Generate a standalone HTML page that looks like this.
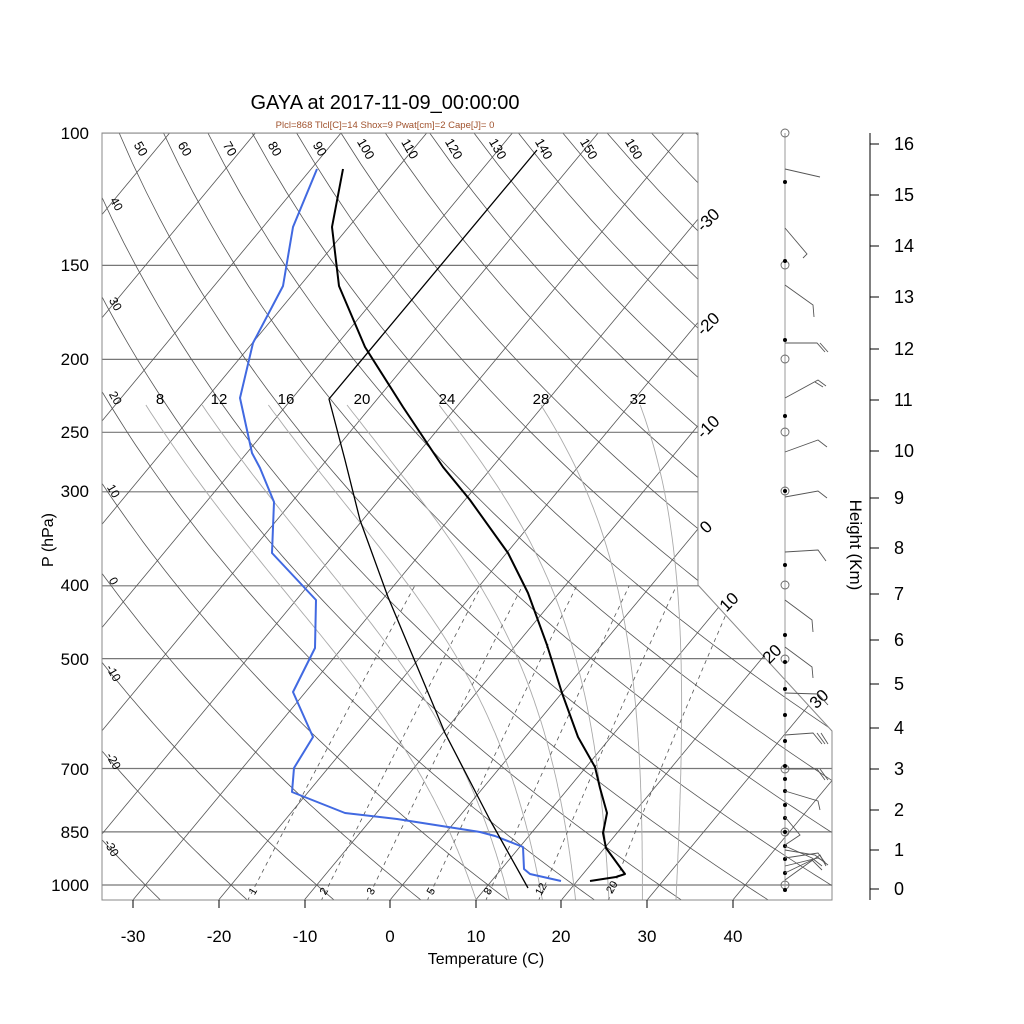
<!DOCTYPE html>
<html><head><meta charset="utf-8"><style>
html,body{margin:0;padding:0;background:#fff}
svg{display:block}
text{font-family:"Liberation Sans",sans-serif}
</style></head><body>
<svg id="s" width="1024" height="1024" viewBox="0 0 1024 1024" xmlns="http://www.w3.org/2000/svg">
<defs><clipPath id="cp"><polygon points="102,133 698,133 698,585 832,731 832,900 102,900"/></clipPath></defs>
<g id="bg" clip-path="url(#cp)"></g>
<polygon points="102,133 698,133 698,585 832,731 832,900 102,900" fill="none" stroke="#888" stroke-width="1"/>
<g fill="none" stroke-linejoin="round">
<polyline stroke="#4169e1" stroke-width="2" points="317,169 293,227 283,286 253,343 240,398 252,453 260,468 274,502 272,553 316,600 315,648 293,692 313,737 294,768 292,792 345,813 397,819 480,832 495,836 523,847 524,869 530,874 561,881"/>
<polyline stroke="#000" stroke-width="2" points="343,169 332,227 339,286 365,347 403,407 443,467 470,500 508,553 528,593 547,645 562,693 578,737 595,767 600,788 607,813 603,833 606,848 625,874 616,877 590,881"/>
<polyline stroke="#000" stroke-width="1.3" points="528,888 490,820 445,733 388,597 360,520 345,460 329,399 537,150"/>
</g>
<g font-size="17" text-anchor="end" fill="#000">
<text x="89" y="139">100</text><text x="89" y="271">150</text><text x="89" y="365">200</text>
<text x="89" y="438">250</text><text x="89" y="497">300</text><text x="89" y="591">400</text>
<text x="89" y="665">500</text><text x="89" y="775">700</text><text x="89" y="838">850</text>
<text x="89" y="891">1000</text>
</g>
<text transform="translate(53,540) rotate(-90)" font-size="16" text-anchor="middle">P (hPa)</text>
<g font-size="17" text-anchor="middle">
<text x="133" y="942">-30</text><text x="219" y="942">-20</text><text x="305" y="942">-10</text>
<text x="390" y="942">0</text><text x="476" y="942">10</text><text x="561" y="942">20</text>
<text x="647" y="942">30</text><text x="733" y="942">40</text>
</g>
<g stroke="#000" stroke-width="1"><line x1="133" y1="900" x2="133" y2="908"/><line x1="219" y1="900" x2="219" y2="908"/><line x1="305" y1="900" x2="305" y2="908"/><line x1="390" y1="900" x2="390" y2="908"/><line x1="476" y1="900" x2="476" y2="908"/><line x1="561" y1="900" x2="561" y2="908"/><line x1="647" y1="900" x2="647" y2="908"/><line x1="733" y1="900" x2="733" y2="908"/></g>
<text x="486" y="964" font-size="16" text-anchor="middle">Temperature (C)</text>
<text x="385" y="109" font-size="20" text-anchor="middle">GAYA at 2017-11-09_00:00:00</text>
<text x="385" y="128" font-size="9.5" text-anchor="middle" fill="#a0522d">Plcl=868 Tlcl[C]=14 Shox=9 Pwat[cm]=2 Cape[J]= 0</text>
<g font-size="15" text-anchor="middle">
<text x="160" y="404">8</text><text x="219" y="404">12</text><text x="286" y="404">16</text>
<text x="362" y="404">20</text><text x="447" y="404">24</text><text x="541" y="404">28</text><text x="638" y="404">32</text>
</g>
<g font-size="13" text-anchor="middle">
<text transform="translate(137,151) rotate(60)">50</text><text transform="translate(181,151) rotate(60)">60</text>
<text transform="translate(226,151) rotate(60)">70</text><text transform="translate(271,151) rotate(60)">80</text>
<text transform="translate(316,151) rotate(60)">90</text><text transform="translate(362,151) rotate(60)">100</text>
<text transform="translate(406,151) rotate(60)">110</text><text transform="translate(450,151) rotate(60)">120</text>
<text transform="translate(494,151) rotate(60)">130</text><text transform="translate(540,151) rotate(60)">140</text>
<text transform="translate(585,151) rotate(60)">150</text><text transform="translate(630,151) rotate(60)">160</text>
</g>
<g font-size="12" text-anchor="middle">
<text transform="translate(113,206) rotate(60)">40</text><text transform="translate(112,306) rotate(60)">30</text>
<text transform="translate(112,400) rotate(60)">20</text><text transform="translate(110,493) rotate(60)">10</text>
<text transform="translate(110,583) rotate(60)">0</text><text transform="translate(110,675) rotate(60)">-10</text>
<text transform="translate(110,763) rotate(60)">-20</text><text transform="translate(108,850) rotate(60)">-30</text>
</g>
<g font-size="17" text-anchor="middle">
<text transform="translate(712,224) rotate(-45)">-30</text><text transform="translate(712,328) rotate(-45)">-20</text>
<text transform="translate(712,431) rotate(-45)">-10</text><text transform="translate(710,531) rotate(-45)">0</text>
<text transform="translate(733,606) rotate(-45)">10</text><text transform="translate(776,658) rotate(-45)">20</text>
<text transform="translate(823,703) rotate(-45)">30</text>
</g>
<g font-size="11" text-anchor="middle">
<text transform="translate(256,893) rotate(-60)">1</text><text transform="translate(327,893) rotate(-60)">2</text>
<text transform="translate(374,893) rotate(-60)">3</text><text transform="translate(434,893) rotate(-60)">5</text>
<text transform="translate(491,893) rotate(-60)">8</text><text transform="translate(544,891) rotate(-60)">12</text>
<text transform="translate(615,889) rotate(-60)">20</text>
</g>
<line x1="785" y1="133" x2="785" y2="890" stroke="#999" stroke-width="1"/>
<g fill="none" stroke="#666" stroke-width="0.9">
<circle cx="785" cy="133" r="4"/><circle cx="785" cy="265" r="4"/><circle cx="785" cy="359" r="4"/>
<circle cx="785" cy="432" r="4"/><circle cx="785" cy="491" r="4"/><circle cx="785" cy="585" r="4"/>
<circle cx="785" cy="659" r="4"/><circle cx="785" cy="769" r="4"/><circle cx="785" cy="832" r="4"/><circle cx="785" cy="885" r="4"/>
</g>
<g fill="#000">
<circle cx="785" cy="182" r="2"/><circle cx="785" cy="261" r="2"/><circle cx="785" cy="340" r="2"/><circle cx="785" cy="416" r="2"/>
<circle cx="785" cy="491" r="2"/><circle cx="785" cy="565" r="2"/><circle cx="785" cy="635" r="2"/><circle cx="785" cy="662" r="2"/>
<circle cx="785" cy="689" r="2"/><circle cx="785" cy="715" r="2"/><circle cx="785" cy="741" r="2"/><circle cx="785" cy="766" r="2"/>
<circle cx="785" cy="779" r="2"/><circle cx="785" cy="791" r="2"/><circle cx="785" cy="805" r="2"/><circle cx="785" cy="818" r="2"/>
<circle cx="785" cy="832" r="2"/><circle cx="785" cy="846" r="2"/><circle cx="785" cy="859" r="2"/><circle cx="785" cy="873" r="2"/><circle cx="785" cy="890" r="2"/>
</g>
<g fill="none" stroke="#555" stroke-width="0.9">
<polyline points="785,169 820,177"/>
<polyline points="785,228 807,254 803,258"/>
<polyline points="785,285 813,305 814,317"/>
<polyline points="785,343 817,343 825,352"/><line x1="820" y1="343" x2="828" y2="352"/>
<polyline points="785,398 818,380 826,386"/><line x1="815" y1="382" x2="823" y2="387"/>
<polyline points="785,452 818,440 827,447"/>
<polyline points="785,497 818,491 827,498"/>
<polyline points="785,552 818,550 826,561"/>
<polyline points="785,600 812,620 813,632"/>
<polyline points="785,647 812,667 813,678"/>
<polyline points="785,693 818,694 828,705"/>
<polyline points="785,735 813,733 822,744"/><line x1="817" y1="733" x2="825" y2="744"/><line x1="821" y1="733" x2="828" y2="744"/>
<polyline points="785,769 817,769 825,780"/><line x1="820" y1="769" x2="828" y2="780"/>
<polyline points="785,791 818,801 820,810"/>
<polyline points="785,817 800,835 785,845"/>
<polyline points="785,846 812,858 822,866"/>
<polyline points="785,850 815,855 828,865"/>
<polyline points="785,858 818,853 826,864"/>
<polyline points="785,866 818,858 825,862"/>
<polyline points="785,873 812,860 822,870"/>
<polyline points="785,880 810,862 820,855 826,866"/>
</g>
<line x1="870" y1="133" x2="870" y2="900" stroke="#000" stroke-width="1"/>
<g id="hax" font-size="18"></g>
<text transform="translate(850,545) rotate(90)" font-size="17" text-anchor="middle">Height (Km)</text>
<script>
(function(){
var NS="http://www.w3.org/2000/svg";
function Y(p){return 133+326.6*Math.log(p/100);}
function X(T,p){return 390+8.57*T+0.83*(900-Y(p));}
var bg=document.getElementById('bg');
function path(d,st,w,dash){var e=document.createElementNS(NS,'path');e.setAttribute('d',d);e.setAttribute('fill','none');e.setAttribute('stroke',st);e.setAttribute('stroke-width',w);if(dash)e.setAttribute('stroke-dasharray',dash);bg.appendChild(e);}
[100,150,200,250,300,400,500,700,850,1000].forEach(function(p){var y=Y(p).toFixed(1);path('M102 '+y+'H840','#777',1.2);});
for(var T=-120;T<=40;T+=10){path('M'+X(T,1050).toFixed(1)+' '+Y(1050).toFixed(1)+'L'+X(T,100).toFixed(1)+' '+Y(100).toFixed(1),'#555',0.8);}
for(var th=-40;th<=200;th+=10){var d='';for(var p=1050;p>=100;p-=10){var t=(th+273.15)*Math.pow(p/1000,0.286)-273.15;d+=(d?'L':'M')+X(t,p).toFixed(1)+' '+Y(p).toFixed(1);}path(d,'#555',0.8);}
function es(tc){return 6.112*Math.exp(17.67*tc/(tc+243.5));}
function dTdp(T,p){var tc=T-273.15;var e=es(tc);var rs=0.622*e/(p-e);var Rd=287,cp=1005,L=2.5e6;return (Rd*T+L*rs)/(p*(cp+L*L*rs*0.622/(Rd*T*T)));}
[8,12,16,20,24,28,32].forEach(function(tw){var pts=[];var T=tw+273.15;var p=1000;
 var T2=T,p2=1000;var low=[];while(p2<1050){var k=dTdp(T2,p2);T2+=k*5;p2+=5;low.unshift([T2,p2]);}
 pts=low.concat([[T,p]]);
 while(p>230){var k1=dTdp(T,p);var Tm=T-k1*2.5;var k2=dTdp(Tm,p-2.5);T-=k2*5;p-=5;pts.push([T,p]);}
 var d='';pts.forEach(function(q){d+=(d?'L':'M')+X(q[0]-273.15,q[1]).toFixed(1)+' '+Y(q[1]).toFixed(1);});path(d,'#aaa',0.9);});
[1,2,3,5,8,12,20].forEach(function(w){var d='';for(var p=1050;p>=400;p-=10){var e=w*p/(622+w);var l=Math.log(e/6.112);var t=243.5*l/(17.67-l);d+=(d?'L':'M')+X(t,p).toFixed(1)+' '+Y(p).toFixed(1);}path(d,'#555',0.8,'4,4');});
var h=document.getElementById('hax');
var hy=[889,850,810,769,728,684,640,594,548,498,451,400,349,297,246,195,144];
for(var k=0;k<=16;k++){var y=hy[k];var l=document.createElementNS(NS,'line');l.setAttribute('x1',870);l.setAttribute('x2',879);l.setAttribute('y1',y);l.setAttribute('y2',y);l.setAttribute('stroke','#000');h.appendChild(l);
var t=document.createElementNS(NS,'text');t.setAttribute('x',894);t.setAttribute('y',y+6);t.textContent=String(k);h.appendChild(t);}
})();
</script>
</svg>
</body></html>
